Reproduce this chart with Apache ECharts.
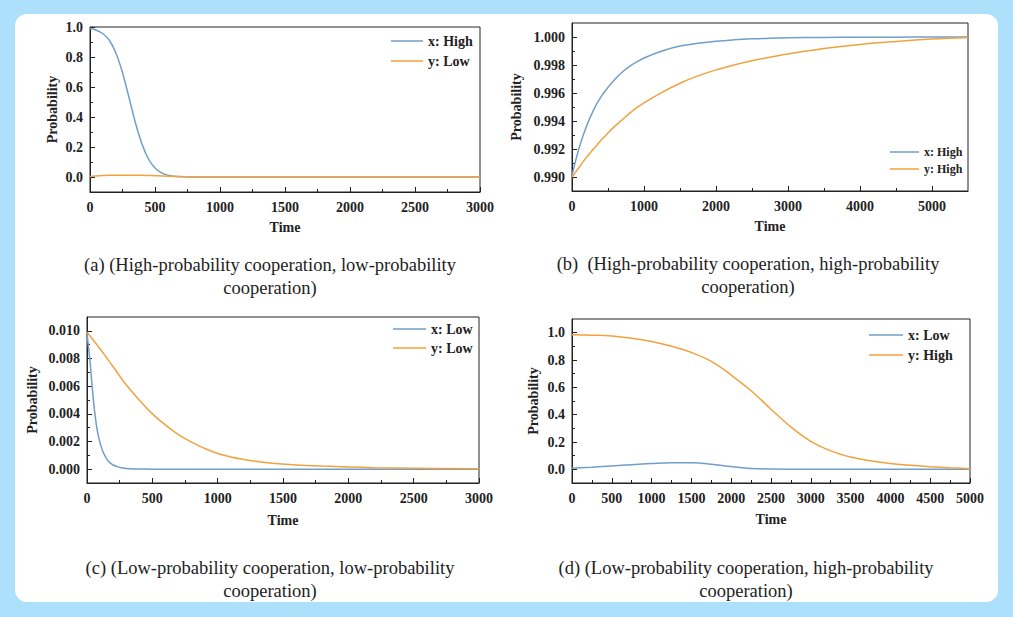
<!DOCTYPE html>
<html>
<head>
<meta charset="utf-8">
<script src="https://cdn.jsdelivr.net/npm/echarts@6/dist/echarts.min.js"></script>
<style>
    html, body { margin: 0; padding: 0; }
    body { width: 1013px; height: 617px; background: #ade0fb; position: relative; overflow: hidden; }
    #panel { position: absolute; left: 15px; top: 14px; width: 983px; height: 588px; background: #fff; border-radius: 12px; }
    #main { position: absolute; left: 0; top: 0; width: 1013px; height: 617px; }
</style>
</head>
<body>
<div id="panel"></div>
<div id="main"></div>
<script>
// (a) high / low
var tA = [0, 50, 100, 150, 200, 250, 300, 350, 400, 450, 500, 550, 600, 650, 700, 750, 800, 850, 900, 1000, 1250, 1500, 2000, 2500, 3000];
var xA = [0.99, 0.978, 0.955, 0.91, 0.825, 0.695, 0.53, 0.36, 0.22, 0.12, 0.06, 0.028, 0.012, 0.005, 0.002, 0.0008, 0.0003, 0, 0, 0, 0, 0, 0, 0, 0];
var yA = [0.004, 0.007, 0.01, 0.0115, 0.012, 0.012, 0.012, 0.0115, 0.011, 0.0098, 0.0085, 0.007, 0.0055, 0.004, 0.0028, 0.0018, 0.0011, 0.0006, 0.0003, 0, 0, 0, 0, 0, 0];

// (b) high / high
var tB = [0, 100, 200, 300, 400, 500, 600, 700, 800, 900, 1000, 1250, 1500, 1750, 2000, 2250, 2500, 2750, 3000, 3500, 4000, 4500, 5000, 5500];
var xB = [0.9901, 0.9921, 0.9936, 0.9948, 0.9957, 0.9964, 0.997, 0.9975, 0.9979, 0.99822, 0.9985, 0.999, 0.99935, 0.99955, 0.9997, 0.9998, 0.99987, 0.99991, 0.99994, 0.99997, 0.99998, 0.99999, 1.0, 1.0];
var yB = [0.99, 0.9907, 0.9914, 0.992, 0.9926, 0.99315, 0.99365, 0.9941, 0.99455, 0.99495, 0.9953, 0.99605, 0.9967, 0.99722, 0.99765, 0.998, 0.9983, 0.99856, 0.99879, 0.99918, 0.99947, 0.99968, 0.99985, 0.99997];

// (c) low / low, the two curves read at different steps
var tC1 = [0, 25, 50, 75, 100, 125, 150, 175, 200, 225, 250, 275, 300, 350, 400, 500, 750, 1000, 1500, 2000, 2500, 3000];
var xC = [0.0098, 0.0076, 0.0049, 0.003, 0.0019, 0.0012, 0.00075, 0.00047, 0.0003, 0.0002, 0.00013, 0.00008, 0.00005, 0.00002, 0.00001, 0, 0, 0, 0, 0, 0, 0];
var tC2 = [0, 100, 200, 300, 400, 500, 600, 700, 800, 900, 1000, 1100, 1200, 1300, 1400, 1500, 1600, 1800, 2000, 2200, 2500, 3000];
var yC = [0.0099, 0.0087, 0.0074, 0.0061, 0.005, 0.004, 0.0032, 0.0025, 0.00195, 0.0015, 0.00113, 0.00088, 0.0007, 0.00056, 0.00045, 0.00037, 0.0003, 0.00022, 0.00016, 0.00011, 0.00007, 0.00003];

// (d) low / high
var tD = [0, 250, 500, 750, 1000, 1250, 1500, 1750, 2000, 2250, 2500, 2750, 3000, 3250, 3500, 3750, 4000, 4250, 4500, 4750, 5000];
var xD = [0.008, 0.016, 0.025, 0.034, 0.043, 0.049, 0.048, 0.038, 0.02, 0.007, 0.002, 0.0005, 0, 0, 0, 0, 0, 0, 0, 0, 0];
var yD = [0.985, 0.982, 0.976, 0.96, 0.935, 0.9, 0.855, 0.79, 0.69, 0.575, 0.44, 0.31, 0.205, 0.135, 0.09, 0.062, 0.043, 0.029, 0.019, 0.011, 0.005];

// tick labels
var xTicksA = [0, 500, 1000, 1500, 2000, 2500, 3000];
var xMinorA = [250, 750, 1250, 1750, 2250, 2750];
var yTicksA = [0, 0.2, 0.4, 0.6, 0.8, 1.0];
var yMinorA = [0.1, 0.3, 0.5, 0.7, 0.9];
var xTicksB = [0, 1000, 2000, 3000, 4000, 5000];
var xMinorB = [500, 1500, 2500, 3500, 4500];
var yTicksB = [0.990, 0.992, 0.994, 0.996, 0.998, 1.000];
var yMinorB = [0.991, 0.993, 0.995, 0.997, 0.999];
var xTicksC = xTicksA;
var xMinorC = xMinorA;
var yTicksC = [0, 0.002, 0.004, 0.006, 0.008, 0.010];
var yMinorC = [0.001, 0.003, 0.005, 0.007, 0.009];
var xTicksD = [0, 500, 1000, 1500, 2000, 2500, 3000, 3500, 4000, 4500, 5000];
var xMinorD = [250, 750, 1250, 1750, 2250, 2750, 3250, 3750, 4250, 4750];
var yTicksD = yTicksA;
var yMinorD = yMinorA;

var captions = [
    '(a) (High-probability cooperation, low-probability\ncooperation)',
    '(b)  (High-probability cooperation, high-probability\ncooperation)',
    '(c) (Low-probability cooperation, low-probability\ncooperation)',
    '(d) (Low-probability cooperation, high-probability\ncooperation)'
];

var FONT = '"Liberation Serif", "Times New Roman", serif';
var BLUE = '#709fcb';
var ORANGE = '#f0a23f';
var INK = '#222';

function zip(t, v) {
    return t.map(function(x, i) { return [x, v[i]]; });
}

// main axis + a second invisible one that only draws the short minor ticks
function makeAxes(isX, grid, min, max, majors, minors, digits, name, nameGap) {
    var main = {
        type: 'value', gridIndex: grid, min: min, max: max,
        position: isX ? 'bottom' : 'left',
        axisLine: { show: true, onZero: false, lineStyle: { color: INK, width: 1 } },
        axisTick: { show: true, inside: true, length: 5, customValues: majors, lineStyle: { color: INK } },
        axisLabel: {
            customValues: majors, margin: isX ? 8 : 7,
            formatter: function(v) { return v.toFixed(digits); },
            fontFamily: FONT, fontWeight: 'bold', fontSize: 14, color: INK
        },
        splitLine: { show: false },
        name: name, nameLocation: 'middle', nameGap: nameGap, nameRotate: isX ? 0 : 90,
        nameTextStyle: { fontFamily: FONT, fontWeight: 'bold', fontSize: 14, color: INK }
    };
    var minor = {
        type: 'value', gridIndex: grid, min: min, max: max,
        position: isX ? 'bottom' : 'left',
        axisLine: { show: false, onZero: false },
        axisTick: { show: true, inside: true, length: 3, customValues: minors, lineStyle: { color: INK } },
        axisLabel: { show: false },
        splitLine: { show: false }
    };
    return [main, minor];
}

var grids = [
    { left: 90, top: 27, width: 390, height: 165 },
    { left: 572, top: 23, width: 396, height: 168 },
    { left: 87, top: 317, width: 392, height: 166 },
    { left: 572, top: 319, width: 398, height: 164 }
];

var xAxes = [].concat(
    makeAxes(true, 0, 0, 3000, xTicksA, xMinorA, 0, 'Time', 28),
    makeAxes(true, 1, 0, 5500, xTicksB, xMinorB, 0, 'Time', 28),
    makeAxes(true, 2, 0, 3000, xTicksC, xMinorC, 0, 'Time', 30),
    makeAxes(true, 3, 0, 5000, xTicksD, xMinorD, 0, 'Time', 29)
);
var yAxes = [].concat(
    makeAxes(false, 0, -0.1, 1.0, yTicksA, yMinorA, 1, 'Probability', 31),
    makeAxes(false, 1, 0.989, 1.001, yTicksB, yMinorB, 3, 'Probability', 49),
    makeAxes(false, 2, -0.001, 0.011, yTicksC, yMinorC, 3, 'Probability', 48),
    makeAxes(false, 3, -0.1, 1.1, yTicksD, yMinorD, 1, 'Probability', 32)
);

function line(name, panel, t, v, color) {
    return {
        type: 'line', name: name,
        xAxisIndex: panel * 2, yAxisIndex: panel * 2,
        data: zip(t, v),
        symbol: 'none', showSymbol: false, smooth: 0.4,
        lineStyle: { width: 1.5, color: color },
        itemStyle: { color: color },
        silent: true, animation: false
    };
}

function legend(names, left, top, width, size, gap) {
    return {
        data: names, orient: 'vertical', left: left, top: top, padding: 0,
        icon: 'rect', itemWidth: width, itemHeight: 1.5, itemGap: gap,
        textStyle: { fontFamily: FONT, fontWeight: 'bold', fontSize: size, color: INK },
        selectedMode: false
    };
}

function caption(text, cx, top) {
    return {
        text: text, left: cx, top: top, textAlign: 'center', padding: 0,
        textStyle: { fontFamily: FONT, fontWeight: 'normal', fontSize: 18.5, lineHeight: 23, color: INK }
    };
}

var myChart = echarts.init(document.getElementById('main'), null, { renderer: 'svg' });
var option = {
    backgroundColor: 'transparent',
    animation: false,
    title: [
        caption(captions[0], 270, 253),
        caption(captions[1], 748, 252),
        caption(captions[2], 270, 556),
        caption(captions[3], 746, 556)
    ],
    grid: grids.map(function(g) {
        return { left: g.left, top: g.top, width: g.width, height: g.height, show: true, borderColor: INK, borderWidth: 1, backgroundColor: 'transparent' };
    }),
    legend: [
        legend(['x: High', 'y: Low'], 391, 34, 32, 14, 6),
        legend(['x: High', 'y: High'], 890, 146, 29, 12, 5),
        legend(['x: Low', 'y: Low'], 393, 322, 33, 14, 5),
        legend(['x: Low', 'y: High'], 869, 328, 34, 14, 6)
    ],
    xAxis: xAxes,
    yAxis: yAxes,
    series: [
        line('x: High', 0, tA, xA, BLUE),
        line('y: Low', 0, tA, yA, ORANGE),
        line('x: High', 1, tB, xB, BLUE),
        line('y: High', 1, tB, yB, ORANGE),
        line('x: Low', 2, tC1, xC, BLUE),
        line('y: Low', 2, tC2, yC, ORANGE),
        line('x: Low', 3, tD, xD, BLUE),
        line('y: High', 3, tD, yD, ORANGE)
    ]
};
myChart.setOption(option);
</script>
</body>
</html>
